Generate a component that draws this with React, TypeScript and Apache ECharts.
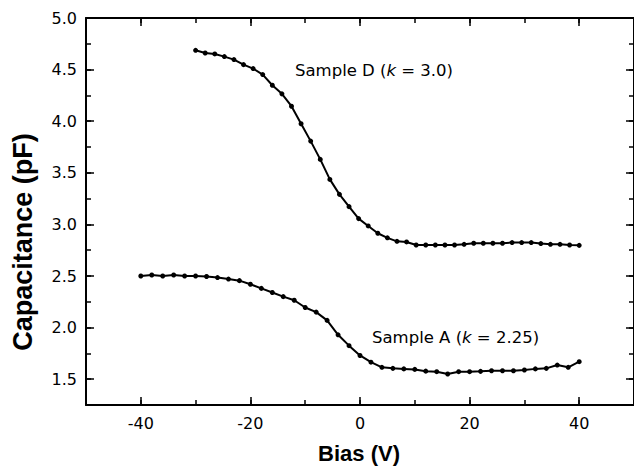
import React, { useEffect, useRef } from "react";
import * as echarts from "echarts";

// Sample A (k = 2.25)
const biasA = [-40, -38, -36, -34, -32, -30, -28, -26, -24, -22, -20, -18, -16, -14, -12, -10, -8, -6, -4, -2, 0, 2, 4, 6, 8, 10, 12, 14, 16, 18, 20, 22, 24, 26, 28, 30, 32, 34, 36, 38, 40];
const capA = [2.50, 2.51, 2.50, 2.51, 2.50, 2.50, 2.495, 2.485, 2.47, 2.455, 2.42, 2.38, 2.34, 2.30, 2.265, 2.195, 2.15, 2.07, 1.93, 1.825, 1.73, 1.665, 1.615, 1.605, 1.60, 1.595, 1.578, 1.573, 1.55, 1.573, 1.573, 1.576, 1.582, 1.582, 1.582, 1.589, 1.60, 1.605, 1.637, 1.615, 1.67];

// Sample D (k = 3.0)
const biasD = [-30, -28.25, -26.5, -24.75, -23, -21.25, -19.5, -17.75, -16, -14.25, -12.5, -10.75, -9, -7.25, -5.5, -3.75, -2, -0.25, 1.5, 3.25, 5, 6.75, 8.5, 10.25, 12, 13.75, 15.5, 17.25, 19, 20.75, 22.5, 24.25, 26, 27.75, 29.5, 31.25, 33, 34.75, 36.5, 38.25, 40];
const capD = [4.687, 4.661, 4.652, 4.626, 4.597, 4.548, 4.51, 4.452, 4.348, 4.265, 4.145, 3.975, 3.807, 3.63, 3.436, 3.291, 3.172, 3.056, 2.985, 2.914, 2.87, 2.836, 2.83, 2.80, 2.80, 2.80, 2.80, 2.80, 2.807, 2.817, 2.817, 2.817, 2.817, 2.824, 2.824, 2.824, 2.814, 2.807, 2.807, 2.80, 2.797];

const xMajorTicks = [-40, -20, 0, 20, 40];
const yMajorTicks = [1.5, 2.0, 2.5, 3.0, 3.5, 4.0, 4.5, 5.0];

const xTitle = "Bias (V)";
const yTitle = "Capacitance (pF)";

const BLACK = "#000";
const TICK_FONT = "DejaVu Sans";

function majorAxis(pos: string, min: number, max: number, ticks: number[], showLabel: boolean, isY: boolean) {
  return {
    type: "value",
    position: pos,
    min,
    max,
    axisLine: { show: true, onZero: false, lineStyle: { color: BLACK, width: 2 } },
    axisTick: { show: true, inside: true, length: 8, lineStyle: { color: BLACK, width: 1.5 }, customValues: ticks },
    axisLabel: {
      show: showLabel,
      customValues: ticks,
      color: BLACK,
      fontFamily: TICK_FONT,
      fontSize: 16,
      margin: isY ? 9 : 10,
      formatter: isY ? (v: number) => v.toFixed(1) : (v: number) => String(v),
    },
    splitLine: { show: false },
  };
}

function minorAxis(pos: string, min: number, max: number, interval: number) {
  return {
    type: "value",
    position: pos,
    min,
    max,
    interval,
    axisLine: { show: false, onZero: false },
    axisTick: { show: true, inside: true, length: 5, lineStyle: { color: BLACK, width: 1.5 } },
    axisLabel: { show: false },
    splitLine: { show: false },
  };
}

export default function App() {
  const ref = useRef<HTMLDivElement>(null);
  useEffect(() => {
    if (!ref.current) return;
    const chart = echarts.init(ref.current, null, { renderer: "svg" });
    const option = {
      animation: false,
      backgroundColor: "#fff",
      grid: { left: 86, right: 0, top: 18, bottom: 67 },
      xAxis: [
        majorAxis("bottom", -50, 50, xMajorTicks, true, false),
        minorAxis("bottom", -50, 50, 10),
        majorAxis("top", -50, 50, xMajorTicks, false, false),
        minorAxis("top", -50, 50, 10),
      ],
      yAxis: [
        majorAxis("left", 1.25, 5, yMajorTicks, true, true),
        minorAxis("left", 1.25, 5, 0.25),
        majorAxis("right", 1.25, 5, yMajorTicks, false, true),
        minorAxis("right", 1.25, 5, 0.25),
      ],
      series: [
        {
          type: "line",
          name: "Sample D",
          xAxisIndex: 0,
          yAxisIndex: 0,
          data: biasD.map((b, i) => [b, capD[i]]),
          symbol: "circle",
          symbolSize: 5,
          showSymbol: true,
          lineStyle: { color: BLACK, width: 2 },
          itemStyle: { color: BLACK },
        },
        {
          type: "line",
          name: "Sample A",
          xAxisIndex: 0,
          yAxisIndex: 0,
          data: biasA.map((b, i) => [b, capA[i]]),
          symbol: "circle",
          symbolSize: 5,
          showSymbol: true,
          lineStyle: { color: BLACK, width: 2 },
          itemStyle: { color: BLACK },
        },
      ],
      graphic: [
        {
          type: "text",
          x: 23,
          y: 242,
          rotation: Math.PI / 2,
          style: {
            text: yTitle,
            font: 'bold 27px "Liberation Sans"',
            fill: BLACK,
            align: "center",
            verticalAlign: "middle",
            textAlign: "center",
            textVerticalAlign: "middle",
          },
        },
        {
          type: "text",
          x: 359,
          y: 453,
          style: {
            text: xTitle,
            font: 'bold 22px "Liberation Sans"',
            fill: BLACK,
            align: "center",
            verticalAlign: "middle",
            textAlign: "center",
            textVerticalAlign: "middle",
          },
        },
        {
          type: "text",
          x: 295,
          y: 70,
          style: {
            text: "{n|Sample D (}{i|k}{n| = 3.0)}",
            fill: BLACK,
            align: "left",
            verticalAlign: "middle",
            textAlign: "left",
            textVerticalAlign: "middle",
            rich: {
              n: { fontFamily: TICK_FONT, fontSize: 16.5, fill: BLACK, color: BLACK },
              i: { fontFamily: TICK_FONT, fontSize: 16.5, fontStyle: "italic", fill: BLACK, color: BLACK },
            },
          },
        },
        {
          type: "text",
          x: 372,
          y: 337,
          style: {
            text: "{n|Sample A (}{i|k}{n| = 2.25)}",
            fill: BLACK,
            align: "left",
            verticalAlign: "middle",
            textAlign: "left",
            textVerticalAlign: "middle",
            rich: {
              n: { fontFamily: TICK_FONT, fontSize: 16.5, fill: BLACK, color: BLACK },
              i: { fontFamily: TICK_FONT, fontSize: 16.5, fontStyle: "italic", fill: BLACK, color: BLACK },
            },
          },
        },
      ],
    };
    chart.setOption(option as any);
    return () => chart.dispose();
  }, []);
  return (
    <div
      ref={ref}
      style={{ position: "absolute", left: 0, top: 0, width: 634, height: 472, background: "#fff" }}
    />
  );
}
